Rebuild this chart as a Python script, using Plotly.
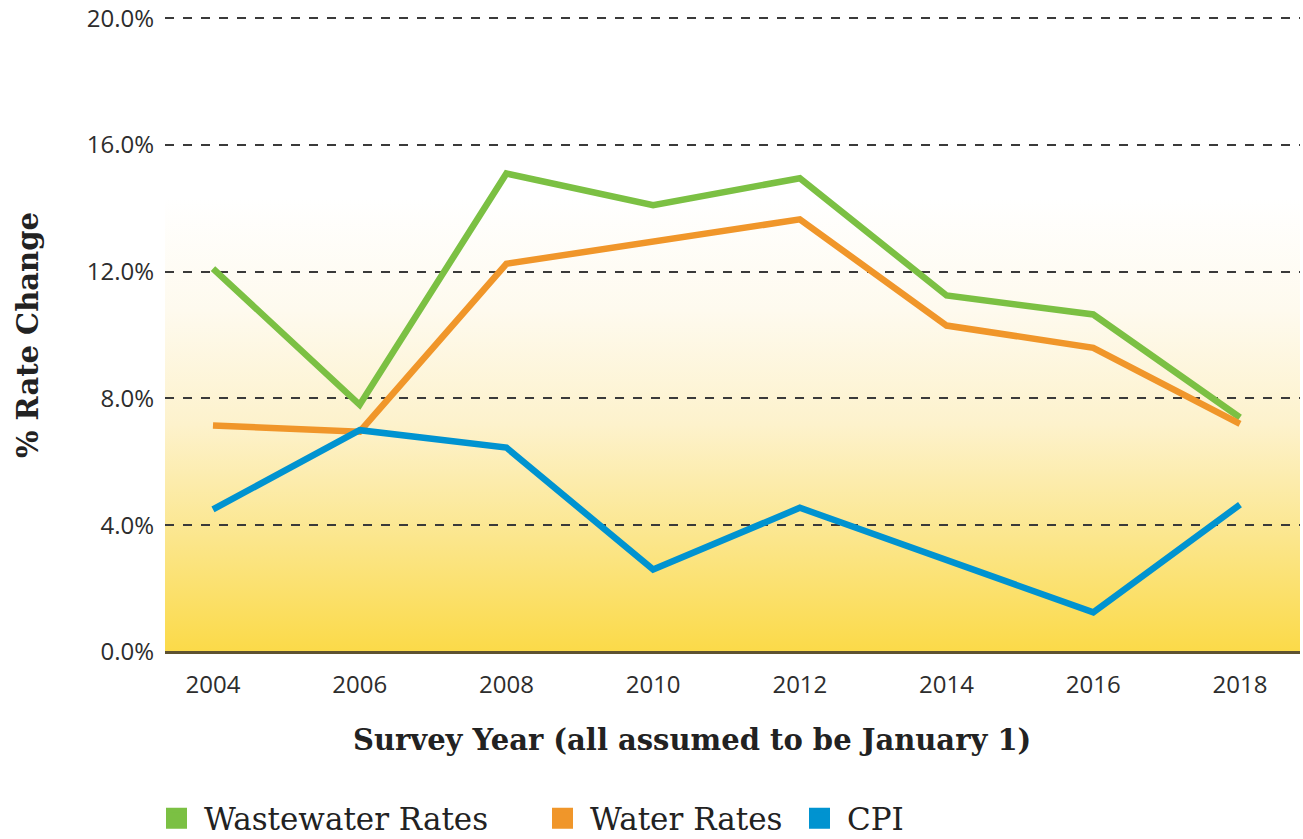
import base64
import plotly.graph_objects as go

years = [2004, 2006, 2008, 2010, 2012, 2014, 2016, 2018]
wastewater = [12.1, 7.8, 15.1, 14.1, 14.95, 11.25, 10.65, 7.4]
water = [7.15, 6.95, 12.25, 12.95, 13.65, 10.3, 9.6, 7.2]
cpi = [4.5, 7.0, 6.45, 2.6, 4.55, 2.9, 1.25, 4.65]

series_names = ["Wastewater Rates", "Water Rates", "CPI"]
series_colors = ["#7BC043", "#F0962A", "#0093D0"]
y_ticks = [0, 4, 8, 12, 16, 20]
x_ticks = years

TICK_FONT = dict(family="Open Sans, Noto Sans, sans-serif", size=24, color="#2d2d2d")
TITLE_FONT = dict(family="DejaVu Serif, serif", size=29, color="#222222")
LEGEND_FONT = dict(family="DejaVu Serif, serif", size=31, color="#222222")

svg = (
    '<svg xmlns="http://www.w3.org/2000/svg" width="100" height="100" preserveAspectRatio="none">'
    '<defs><linearGradient id="g" x1="0" y1="1" x2="0" y2="0">'
    '<stop offset="0" stop-color="#FBDA48"/>'
    '<stop offset="0.25" stop-color="#FBE68C"/>'
    '<stop offset="0.5" stop-color="#FDF2CC"/>'
    '<stop offset="0.75" stop-color="#FEFAEE"/>'
    '<stop offset="1" stop-color="#FFFFFF"/>'
    '</linearGradient></defs>'
    '<rect x="0" y="0" width="100" height="100" fill="url(#g)"/></svg>'
)
svg_uri = "data:image/svg+xml;base64," + base64.b64encode(svg.encode()).decode()
gradient_top = 14.35

legend_ids = ["legend", "legend2", "legend3"]
legend_x = [-0.0141, 0.326, 0.5524]

fig = go.Figure()
for name, vals, col in zip(series_names, [wastewater, water, cpi], series_colors):
    fig.add_trace(go.Scatter(x=years, y=vals, mode="lines", name=name,
                             line=dict(color=col, width=6.5), showlegend=False))
for name, col, lid in zip(series_names, series_colors, legend_ids):
    fig.add_trace(go.Scatter(x=[None], y=[None], mode="markers", name=name, legend=lid,
                             marker=dict(symbol="square", size=16, color=col,
                                         line=dict(color=col, width=5))))

legend_common = dict(orientation="h", xanchor="left", yref="container", y=0.0565,
                     yanchor="top", font=LEGEND_FONT, itemwidth=45,
                     bgcolor="rgba(0,0,0,0)")
layout_legends = {lid: dict(x=lx, **legend_common) for lid, lx in zip(legend_ids, legend_x)}

fig.update_layout(
    width=1303, height=839,
    margin=dict(l=165, r=3, t=15, b=187),
    paper_bgcolor="white", plot_bgcolor="white",
    images=[dict(source=svg_uri, xref="paper", yref="y", x=0, y=gradient_top,
                 sizex=1, sizey=gradient_top, sizing="stretch", layer="below",
                 xanchor="left", yanchor="top")],
    showlegend=True,
    annotations=[
        dict(text="<b>Survey Year (all assumed to be January 1)</b>", xref="paper", yref="paper",
             x=0.4643, y=-0.138, xanchor="center", yanchor="middle", showarrow=False,
             font=TITLE_FONT),
        dict(text="<b>% Rate Change</b>", xref="paper", yref="paper", textangle=-90,
             x=-0.1207, y=0.4976, xanchor="center", yanchor="middle", showarrow=False,
             font=TITLE_FONT),
    ],
    **layout_legends,
)
fig.update_xaxes(
    range=[2003.346, 2018.818], tickvals=x_ticks, ticktext=[str(v) for v in x_ticks],
    showgrid=False, zeroline=False, showline=False, ticks="", automargin=False,
    tickfont=TICK_FONT, ticklabelstandoff=16,
)
fig.update_yaxes(
    range=[0, 20.1], tickvals=y_ticks, ticktext=[f"{v:.1f}%" for v in y_ticks],
    showgrid=True, gridcolor="#3a3a3a", gridwidth=2, griddash="9px,9px",
    zeroline=True, zerolinecolor="#5E5230", zerolinewidth=2.5, automargin=False,
    showline=False, ticks="", tickfont=TICK_FONT, ticklabelstandoff=10,
    ticklabeloverflow="allow",
)

fig.write_html("out.html", config={"displayModeBar": False},
               post_script="document.body.style.margin='0';document.body.style.overflow='hidden';")
